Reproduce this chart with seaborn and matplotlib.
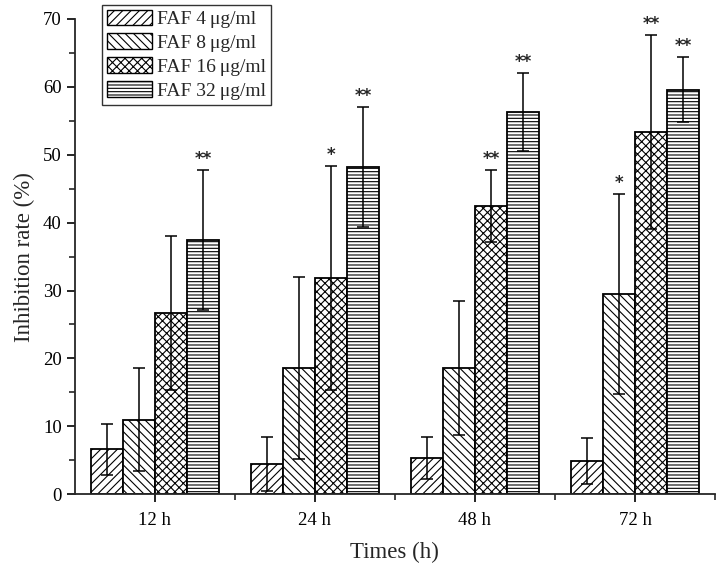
import numpy as np
import pandas as pd
import seaborn as sns
import matplotlib.pyplot as plt
from matplotlib.patches import Patch
from matplotlib.ticker import MultipleLocator, FixedLocator

# Chart data
times = ['12 h', '24 h', '48 h', '72 h']
doses = ['FAF 4\u2009\u03bcg/ml', 'FAF 8\u2009\u03bcg/ml', 'FAF 16\u2009\u03bcg/ml', 'FAF 32\u2009\u03bcg/ml']
faf4 = [6.6, 4.4, 5.4, 4.9]
faf8 = [11.0, 18.6, 18.6, 29.5]
faf16 = [26.7, 31.9, 42.4, 53.3]
faf32 = [37.5, 48.2, 56.3, 59.6]
err4 = [3.7, 4.0, 3.1, 3.4]
err8 = [7.6, 13.4, 9.9, 14.7]
err16 = [11.3, 16.5, 5.3, 14.3]
err32 = [10.3, 8.8, 5.7, 4.8]
stars4 = ['', '', '', '']
stars8 = ['', '', '', '*']
stars16 = ['', '*', '**', '**']
stars32 = ['**', '**', '**', '**']
hatches = ['////', '\\\\\\\\', 'xxxx', '-----']

values = [faf4, faf8, faf16, faf32]
errors = [err4, err8, err16, err32]
stars = [stars4, stars8, stars16, stars32]

rows = []
for d, vals in zip(doses, values):
    for t, v in zip(times, vals):
        rows.append({'time': t, 'dose': d, 'rate': v})
df = pd.DataFrame(rows)

sns.set_style('ticks')
plt.rcParams['font.family'] = ['Liberation Serif', 'DejaVu Serif']
plt.rcParams['hatch.linewidth'] = 0.8

fig = plt.figure(figsize=(7.2, 5.74), dpi=100)
ax = fig.add_axes([0.104, 0.139, 0.889, 0.828])

sns.barplot(data=df, x='time', y='rate', hue='dose', order=times, hue_order=doses,
            palette=['white'] * 4, edgecolor='black', linewidth=1.3,
            errorbar=None, gap=0, ax=ax, legend=False)

# hatches + error bars + stars, bars are in hue order
for i, d in enumerate(doses):
    cont = ax.containers[i]
    xs = []
    for bar in cont:
        bar.set_hatch(hatches[i])
        xs.append(bar.get_x() + bar.get_width() / 2)
    ax.errorbar(xs, values[i], yerr=errors[i], fmt='none', ecolor='black',
                elinewidth=1.1, capsize=4.5, capthick=1.1, zorder=5)
    for x, v, e, s in zip(xs, values[i], errors[i], stars[i]):
        if s:
            ax.text(x, v + e + 0.3, s, ha='center', va='bottom', fontsize=12,
                    family='DejaVu Sans', fontweight='bold')

ax.set_xlim(-0.5, 3.5)
ax.set_ylim(0, 70)
ax.yaxis.set_major_locator(MultipleLocator(10))
ax.yaxis.set_minor_locator(MultipleLocator(5))
ax.xaxis.set_minor_locator(FixedLocator([0.5, 1.5, 2.5, 3.5]))
ax.tick_params(axis='both', which='major', length=6, width=1.2, labelsize=13.5, colors='black')
ax.tick_params(axis='x', which='major', pad=7)
ax.tick_params(axis='both', which='minor', length=4, width=1.2)
ax.set_xlabel('Times (h)', fontsize=16.5, labelpad=9)
ax.set_ylabel('Inhibition rate (%)', fontsize=16.5, labelpad=6)
for sp in ['left', 'bottom']:
    ax.spines[sp].set_linewidth(1.3)
sns.despine(ax=ax)

handles = [Patch(facecolor='white', edgecolor='black', hatch=h, linewidth=1.0) for h in hatches]
leg = ax.legend(handles, doses, loc='upper left', bbox_to_anchor=(0.042, 1.03),
                fontsize=14, frameon=True, fancybox=False, borderpad=0.25,
                labelspacing=0.28, handlelength=2.35, handleheight=0.85, handletextpad=0.25,
                borderaxespad=0)
leg.get_frame().set_edgecolor('black')
leg.get_frame().set_linewidth(1.0)

fig.savefig('out.png', dpi=100)
